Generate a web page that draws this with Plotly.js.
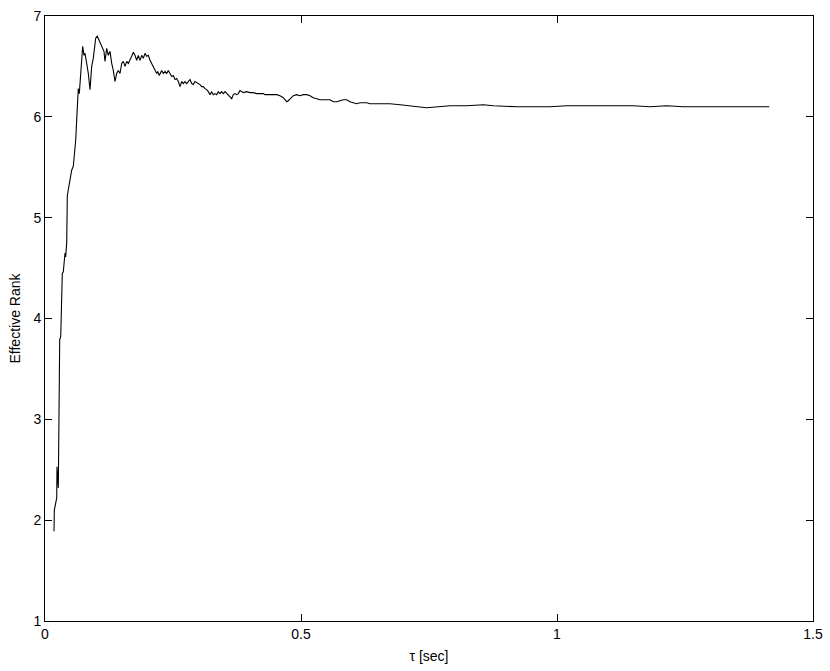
<!DOCTYPE html>
<html>
<head>
<meta charset="utf-8">
<script src="https://cdn.plot.ly/plotly-3.0.1.min.js"></script>
<style>
  html, body { margin: 0; padding: 0; background: #fff; }
  #chart { width: 830px; height: 671px; }
</style>
</head>
<body>
<div id="chart"></div>
<script>
// tau (sec) and effective rank
const tau = [
  0.0176, 0.0182, 0.0229, 0.0234, 0.0260, 0.0273, 0.0279, 0.0287, 0.0307, 0.0312,
  0.0338, 0.0357, 0.0377, 0.0391, 0.0404, 0.0424, 0.0436, 0.0455, 0.0488, 0.0521,
  0.0553, 0.0586, 0.0600, 0.0619, 0.0631, 0.0650, 0.0670, 0.0697, 0.0717, 0.0736,
  0.0762, 0.0781, 0.0814, 0.0846, 0.0879, 0.0912, 0.0943, 0.0963, 0.0990, 0.1021,
  0.1055, 0.1094, 0.1119, 0.1152, 0.1172, 0.1205, 0.1236, 0.1270, 0.1303, 0.1334,
  0.1367, 0.1400, 0.1432, 0.1465, 0.1498, 0.1529, 0.1563, 0.1596, 0.1627, 0.1660,
  0.1693, 0.1725, 0.1758, 0.1791, 0.1822, 0.1855, 0.1889, 0.1920, 0.1953, 0.1986,
  0.2018, 0.2051, 0.2084, 0.2115, 0.2148, 0.2182, 0.2201, 0.2232, 0.2279, 0.2311,
  0.2344, 0.2377, 0.2408, 0.2441, 0.2475, 0.2506, 0.2539, 0.2572, 0.2604, 0.2637,
  0.2670, 0.2701, 0.2734, 0.2768, 0.2799, 0.2832, 0.2865, 0.2896, 0.2930, 0.2963,
  0.2994, 0.3027, 0.3061, 0.3092, 0.3125, 0.3158, 0.3189, 0.3223, 0.3256, 0.3287,
  0.3320, 0.3354, 0.3385, 0.3418, 0.3451, 0.3482, 0.3516, 0.3549, 0.3580, 0.3613,
  0.3647, 0.3678, 0.3711, 0.3744, 0.3775, 0.3809, 0.3842, 0.3873, 0.3939, 0.4004,
  0.4068, 0.4135, 0.4199, 0.4264, 0.4297, 0.4395, 0.4459, 0.4525, 0.4590, 0.4654,
  0.4688, 0.4721, 0.4752, 0.4785, 0.4850, 0.4916, 0.4980, 0.5045, 0.5111, 0.5176,
  0.5240, 0.5307, 0.5371, 0.5436, 0.5502, 0.5566, 0.5631, 0.5697, 0.5762, 0.5826,
  0.5893, 0.5957, 0.6021, 0.6088, 0.6152, 0.6217, 0.6283, 0.6348, 0.6479, 0.6607,
  0.6738, 0.6934, 0.7129, 0.7455, 0.7910, 0.8236, 0.8561, 0.8756, 0.9213, 0.9537,
  0.9863, 1.0189, 1.0514, 1.0840, 1.1166, 1.1490, 1.1816, 1.2143, 1.2467, 1.2793,
  1.3119, 1.3443, 1.3770, 1.4146
];
const effRank = [
  1.89, 2.10, 2.22, 2.53, 2.32, 2.83, 3.19, 3.79, 3.82, 3.93,
  4.45, 4.46, 4.60, 4.65, 4.61, 4.75, 5.22, 5.27, 5.37, 5.47,
  5.51, 5.70, 5.77, 5.97, 6.10, 6.28, 6.23, 6.45, 6.51, 6.70,
  6.61, 6.63, 6.53, 6.43, 6.27, 6.50, 6.58, 6.66, 6.78, 6.80,
  6.76, 6.71, 6.68, 6.65, 6.55, 6.68, 6.61, 6.65, 6.53, 6.46,
  6.35, 6.43, 6.46, 6.43, 6.53, 6.55, 6.50, 6.55, 6.53, 6.56,
  6.60, 6.64, 6.61, 6.56, 6.61, 6.56, 6.61, 6.58, 6.63, 6.60,
  6.61, 6.56, 6.53, 6.50, 6.46, 6.43, 6.45, 6.41, 6.46, 6.43,
  6.45, 6.43, 6.46, 6.43, 6.40, 6.41, 6.37, 6.38, 6.35, 6.30,
  6.35, 6.33, 6.35, 6.33, 6.35, 6.37, 6.33, 6.32, 6.35, 6.34,
  6.33, 6.32, 6.30, 6.30, 6.28, 6.27, 6.25, 6.22, 6.25, 6.22,
  6.23, 6.22, 6.25, 6.23, 6.25, 6.23, 6.25, 6.23, 6.22, 6.20,
  6.18, 6.22, 6.23, 6.22, 6.23, 6.26, 6.25, 6.24, 6.25, 6.24,
  6.24, 6.23, 6.23, 6.23, 6.22, 6.22, 6.22, 6.22, 6.21, 6.19,
  6.17, 6.15, 6.16, 6.18, 6.21, 6.22, 6.21, 6.22, 6.22, 6.21,
  6.19, 6.18, 6.17, 6.17, 6.17, 6.17, 6.15, 6.15, 6.16, 6.17,
  6.17, 6.15, 6.14, 6.13, 6.14, 6.14, 6.14, 6.13, 6.13, 6.13,
  6.13, 6.12, 6.11, 6.09, 6.11, 6.11, 6.12, 6.11, 6.10, 6.10,
  6.10, 6.11, 6.11, 6.11, 6.11, 6.11, 6.10, 6.11, 6.10, 6.10,
  6.10, 6.10, 6.10, 6.10
];
const xTicks = [0, 0.5, 1, 1.5];
const xTickText = ['0', '0.5', '1', '1.5'];
const yTicks = [1, 2, 3, 4, 5, 6, 7];

const font = { family: 'Liberation Sans, Arial, sans-serif', size: 14, color: '#000' };

const trace = {
  x: tau,
  y: effRank,
  mode: 'lines',
  type: 'scatter',
  line: { color: '#000', width: 1.1 },
  hoverinfo: 'skip'
};

const axisCommon = {
  showgrid: false,
  zeroline: false,
  showline: true,
  linecolor: '#000',
  linewidth: 1,
  mirror: 'ticks',
  ticks: 'inside',
  ticklen: 7,
  tickcolor: '#000',
  tickfont: font,
  automargin: false
};

const layout = {
  width: 830,
  height: 671,
  margin: { l: 45, r: 17, t: 16, b: 50 },
  paper_bgcolor: '#fff',
  plot_bgcolor: '#fff',
  showlegend: false,
  font: font,
  xaxis: Object.assign({}, axisCommon, {
    range: [0, 1.5],
    tickvals: xTicks,
    ticktext: xTickText,
    title: { text: 'τ [sec]', font: font, standoff: 10 }
  }),
  yaxis: Object.assign({}, axisCommon, {
    range: [1, 7],
    tickvals: yTicks,
    title: { text: 'Effective Rank', font: font, standoff: 9 }
  })
};

Plotly.newPlot('chart', [trace], layout, { staticPlot: true });
</script>
</body>
</html>
